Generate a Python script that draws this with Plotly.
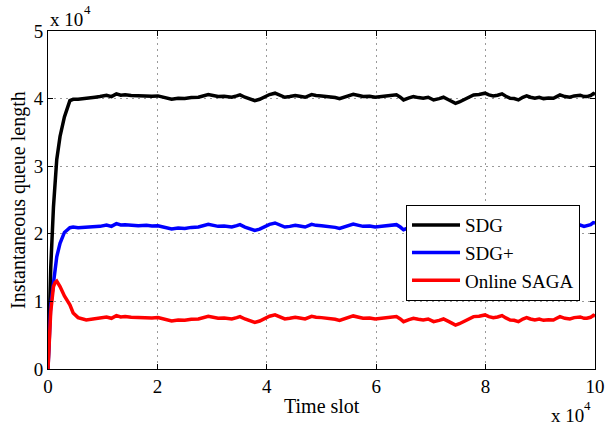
import plotly.graph_objects as go

# Time slot (units of 1e4)
time_slot = [0, 0.02, 0.05, 0.1, 0.13, 0.16, 0.22, 0.3, 0.4, 0.46, 0.55, 0.7,
             0.86, 0.95, 1.07, 1.16, 1.25, 1.33, 1.41, 1.52, 1.65, 1.8, 1.9, 2.01,
             2.12, 2.26, 2.38, 2.5, 2.62, 2.75, 2.93, 3.02, 3.11, 3.22, 3.36, 3.45,
             3.51, 3.6, 3.7, 3.78, 3.87, 3.97, 4.05, 4.15, 4.25, 4.33, 4.42, 4.52,
             4.6, 4.7, 4.82, 4.9, 5.0, 5.15, 5.25, 5.33, 5.45, 5.58, 5.68, 5.76,
             5.88, 5.98, 6.1, 6.19, 6.3, 6.37, 6.44, 6.5, 6.6, 6.68, 6.77, 6.86,
             6.95, 7.05, 7.15, 7.23, 7.33, 7.45, 7.52, 7.6, 7.7, 7.78, 7.88, 7.99,
             8.06, 8.14, 8.22, 8.3, 8.37, 8.45, 8.52, 8.6, 8.68, 8.75, 8.82, 8.9,
             8.98, 9.06, 9.15, 9.24, 9.3, 9.36, 9.45, 9.54, 9.62, 9.73, 9.8, 9.85,
             9.92, 9.97, 10.0]

# Instantaneous queue length (units of 1e4)
sdg = [0, 0.65, 1.5, 2.4, 2.8, 3.1, 3.44, 3.73, 3.97, 3.99, 3.99, 4.01,
       4.02, 4.03, 4.05, 4.03, 4.07, 4.05, 4.055, 4.045, 4.04, 4.045, 4.035, 4.04,
       4.02, 3.99, 4.005, 4.0, 4.015, 4.02, 4.06, 4.045, 4.03, 4.035, 4.02, 4.04,
       4.055, 4.02, 3.99, 3.97, 3.99, 4.03, 4.06, 4.08, 4.045, 4.02, 4.03, 4.045,
       4.035, 4.02, 4.06, 4.045, 4.04, 4.03, 4.015, 4.0, 4.03, 4.065, 4.045, 4.03,
       4.035, 4.02, 4.03, 4.04, 4.045, 4.055, 4.02, 3.98, 4.01, 4.03, 4.015, 4.005,
       4.02, 3.98, 4.0, 4.02, 3.98, 3.93, 3.95, 3.98, 4.03, 4.055, 4.06, 4.08,
       4.055, 4.04, 4.05, 4.07, 4.035, 4.005, 4.0, 3.98, 4.02, 4.04, 4.02, 4.005,
       4.02, 4.0, 4.01, 4.005, 4.03, 4.055, 4.03, 4.02, 4.04, 4.05, 4.03, 4.03,
       4.045, 4.075, 4.06]

sdg_plus = [0, 0.45, 0.95, 1.27, 1.48, 1.66, 1.86, 2.02, 2.09, 2.1, 2.09, 2.095,
            2.10, 2.11, 2.13, 2.11, 2.15, 2.13, 2.135, 2.125, 2.12, 2.125, 2.115, 2.12,
            2.10, 2.07, 2.085, 2.08, 2.095, 2.10, 2.14, 2.125, 2.11, 2.115, 2.10, 2.12,
            2.135, 2.10, 2.07, 2.05, 2.07, 2.11, 2.14, 2.16, 2.125, 2.10, 2.11, 2.125,
            2.115, 2.10, 2.14, 2.125, 2.12, 2.11, 2.095, 2.08, 2.11, 2.145, 2.125, 2.11,
            2.115, 2.10, 2.11, 2.12, 2.125, 2.135, 2.10, 2.06, 2.09, 2.11, 2.095, 2.085,
            2.10, 2.06, 2.08, 2.10, 2.06, 2.01, 2.03, 2.06, 2.11, 2.135, 2.14, 2.16,
            2.135, 2.12, 2.13, 2.15, 2.115, 2.085, 2.08, 2.06, 2.10, 2.12, 2.10, 2.085,
            2.10, 2.08, 2.09, 2.085, 2.11, 2.135, 2.11, 2.10, 2.12, 2.13, 2.11, 2.12,
            2.135, 2.165, 2.16]

online_saga = [0, 0.45, 0.85, 1.22, 1.28, 1.30, 1.22, 1.08, 0.95, 0.83, 0.76, 0.725,
               0.74, 0.75, 0.77, 0.75, 0.79, 0.77, 0.775, 0.765, 0.76, 0.765, 0.755, 0.76,
               0.74, 0.71, 0.725, 0.72, 0.735, 0.74, 0.78, 0.765, 0.75, 0.755, 0.74, 0.76,
               0.775, 0.74, 0.71, 0.69, 0.71, 0.75, 0.78, 0.80, 0.765, 0.74, 0.75, 0.765,
               0.755, 0.74, 0.78, 0.765, 0.76, 0.75, 0.735, 0.72, 0.75, 0.785, 0.765, 0.75,
               0.755, 0.74, 0.75, 0.76, 0.765, 0.775, 0.74, 0.70, 0.73, 0.75, 0.735, 0.725,
               0.74, 0.70, 0.72, 0.74, 0.70, 0.65, 0.67, 0.70, 0.75, 0.775, 0.78, 0.80,
               0.775, 0.76, 0.77, 0.79, 0.755, 0.725, 0.72, 0.70, 0.74, 0.76, 0.74, 0.725,
               0.74, 0.72, 0.73, 0.725, 0.75, 0.775, 0.75, 0.74, 0.76, 0.77, 0.75, 0.75,
               0.765, 0.795, 0.78]

x_ticks = [0, 2, 4, 6, 8, 10]
y_ticks = [0, 1, 2, 3, 4, 5]

FONT = "Liberation Serif, Times New Roman, serif"

fig = go.Figure()
for name, ys, col in [("SDG", sdg, "#000000"), ("SDG+", sdg_plus, "#0000ff"),
                      ("Online SAGA", online_saga, "#ff0000")]:
    fig.add_trace(go.Scatter(x=time_slot, y=ys, mode="lines", name=name,
                             line=dict(color=col, width=3.5)))

axis_common = dict(showline=True, linecolor="black", linewidth=1, mirror="allticks",
                   ticks="inside", ticklen=5, tickcolor="black", showgrid=True,
                   gridcolor="#9a9a9a", griddash="2px,4px", gridwidth=1, zeroline=False,
                   automargin=False,
                   tickfont=dict(family=FONT, size=19, color="black"))

fig.update_xaxes(range=[0, 10], tickvals=x_ticks, ticktext=[str(v) for v in x_ticks],
                 **axis_common)
fig.update_yaxes(range=[0, 5], tickvals=y_ticks, ticktext=[str(v) for v in y_ticks],
                 **axis_common)

def txt(text, x, y, xshift, yshift, size, xanchor="center", angle=0):
    return dict(text=text, xref="paper", yref="paper", x=x, y=y, xshift=xshift,
                yshift=yshift, xanchor=xanchor, yanchor="middle", textangle=angle,
                showarrow=False, font=dict(family=FONT, size=size, color="black"))

fig.update_layout(
    width=605, height=428,
    margin=dict(l=48, r=10, t=31, b=59, autoexpand=False),
    paper_bgcolor="white", plot_bgcolor="white",
    font=dict(family=FONT, size=19, color="black"),
    showlegend=True,
    legend=dict(x=0.6545, y=0.485, xanchor="left", yanchor="top",
                bgcolor="white", bordercolor="black", borderwidth=1,
                itemwidth=48,
                font=dict(family=FONT, size=19, color="black")),
    annotations=[
        dict(text="Time slot", xref="paper", yref="paper", x=0.5, y=-0.07,
             xanchor="center", yanchor="top", showarrow=False,
             font=dict(family=FONT, size=20)),
        txt("Instantaneous queue length", 0, 0.5, -30, 0, 20, angle=-90),
        # axis multipliers
        txt("x 10", 0, 1, 0, 12, 19, xanchor="left"),
        txt("4", 0.0622, 1, 0, 22, 13, xanchor="left"),
        txt("x 10", 0.9159, 0, 0, -46.5, 19, xanchor="left"),
        txt("4", 0.9762, 0, 0, -36.5, 13, xanchor="left"),
    ],
)

# Remove the default page margin so the 605x428 figure fills the window exactly.
fig.write_html("out.html",
               config={"displayModeBar": False},
               post_script="document.body.style.margin='0';"
                           "document.body.style.overflow='hidden';")
